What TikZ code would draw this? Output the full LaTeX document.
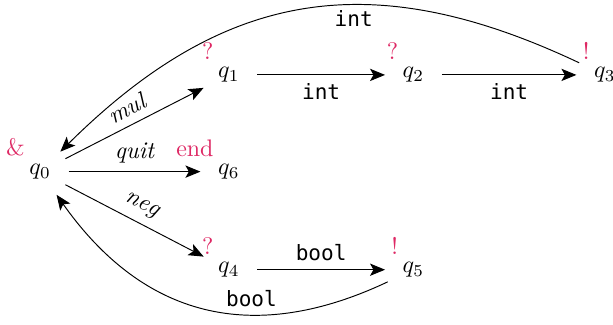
\documentclass[tikz,border=0pt]{standalone}
\usepackage{fontspec}
\setmonofont{DejaVu Sans Mono}[Scale=0.88]
\usetikzlibrary{arrows.meta}
\definecolor{tagpink}{RGB}{222,40,100}

\begin{document}
\begin{tikzpicture}[state/.style={circle,minimum size=0.82cm,inner sep=0pt},
  tag/.style={text=tagpink,inner sep=1pt,label distance=-4.5pt},
  >={Stealth[length=2.2mm,width=1.8mm,inset=0.5mm]}]
\useasboundingbox (0,0) rectangle (9.0,4.77);
\node[state,label={[tag]above left:\&}] (q0) at (0.59,2.25) {$q_0$};
\node[state,label={[tag]above left:?}] (q1) at (3.36,3.67) {$q_1$};
\node[state,label={[tag]above left:?}] (q2) at (6.07,3.67) {$q_2$};
\node[state,label={[tag]above left:!}] (q3) at (8.88,3.67) {$q_3$};
\node[state,label={[tag]above left:end}] (q6) at (3.36,2.25) {$q_6$};
\node[state,label={[tag]above left:?}] (q4) at (3.36,0.81) {$q_4$};
\node[state,label={[tag]above left:!}] (q5) at (6.07,0.81) {$q_5$};
% transitions
\draw[->] (q0) -- node[above,sloped] {$\mathit{mul}$} (q1);
\draw[->] (q0) -- node[above] {$\mathit{quit}$} (q6);
\draw[->] (q0) -- node[above,sloped] {$\mathit{neg}$} (q4);
\draw[->] (q1) -- node[below] {\texttt{int}} (q2);
\draw[->] (q2) -- node[below] {\texttt{int}} (q3);
\draw[->] (q4) -- node[above] {\texttt{bool}} (q5);
\draw[->] (q3) to[bend right=35,looseness=1.12] node[below,pos=0.4,inner sep=2pt] {\texttt{int}} (q0);
\draw[->] (q5) to[bend left=40,looseness=1.12] node[above,pos=0.36] {\texttt{bool}} (q0);
\end{tikzpicture}
\end{document}
